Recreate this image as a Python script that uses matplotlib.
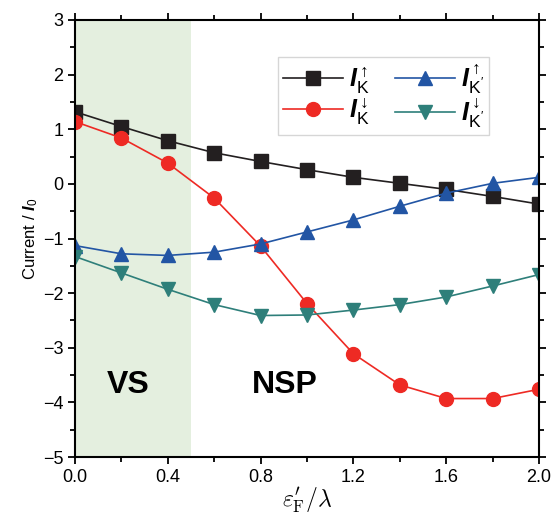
import matplotlib
matplotlib.use("Agg")
import matplotlib.pyplot as plt
from matplotlib.ticker import MultipleLocator

plt.rcParams["font.family"] = ["Liberation Sans", "DejaVu Sans"]
plt.rcParams["mathtext.fontset"] = "custom"
plt.rcParams["mathtext.it"] = "Liberation Sans:italic"
plt.rcParams["mathtext.bf"] = "Liberation Sans:bold"
plt.rcParams["mathtext.bfit"] = "Liberation Sans:italic:bold"
plt.rcParams["mathtext.rm"] = "Liberation Sans"

x = [0.0, 0.2, 0.4, 0.6, 0.8, 1.0, 1.2, 1.4, 1.6, 1.8, 2.0]
i_k_up = [1.32, 1.05, 0.79, 0.57, 0.41, 0.26, 0.12, 0.01, -0.10, -0.23, -0.37]
i_k_down = [1.14, 0.84, 0.38, -0.26, -1.14, -2.19, -3.11, -3.68, -3.93, -3.93, -3.76]
i_kp_up = [-1.13, -1.28, -1.31, -1.25, -1.10, -0.88, -0.66, -0.41, -0.17, 0.01, 0.12]
i_kp_down = [-1.33, -1.63, -1.93, -2.21, -2.41, -2.40, -2.31, -2.21, -2.07, -1.87, -1.66]

vs_range = (0.0, 0.5)

fig = plt.figure(figsize=(5.54, 5.20), dpi=100)
ax = fig.add_axes([75 / 554, 1 - 457 / 520, 464 / 554, 437 / 520])

ax.axvspan(*vs_range, color="#e4efdf", lw=0, zorder=0)

ms = 9.5
ax.plot(x, i_k_up, c="#231f20", marker="s", ms=ms, lw=1.2,
        label=r"$\mathbfit{I}_{\mathrm{K}}^{\uparrow}$")
ax.plot(x, i_k_down, c="#ee2a24", marker="o", ms=ms + 0.5, lw=1.2,
        label=r"$\mathbfit{I}_{\mathrm{K}}^{\downarrow}$")
ax.plot(x, i_kp_up, c="#2255a4", marker="^", ms=ms + 1, lw=1.2,
        label=r"$\mathbfit{I}_{\mathrm{K'}}^{\uparrow}$")
ax.plot(x, i_kp_down, c="#2e7f7a", marker="v", ms=ms + 1, lw=1.2,
        label=r"$\mathbfit{I}_{\mathrm{K'}}^{\downarrow}$")

ax.text(0.23, -3.68, "VS", fontsize=23, fontweight="bold", ha="center", va="center")
ax.text(0.905, -3.68, "NSP", fontsize=23, fontweight="bold", ha="center", va="center")

ax.set_xlim(0, 2.0)
ax.set_ylim(-5, 3)
ax.xaxis.set_major_locator(MultipleLocator(0.4))
ax.xaxis.set_minor_locator(MultipleLocator(0.2))
ax.yaxis.set_major_locator(MultipleLocator(1))
ax.yaxis.set_minor_locator(MultipleLocator(0.5))
ax.xaxis.set_major_formatter(plt.FormatStrFormatter("%.1f"))
ax.tick_params(which="both", direction="out", top=True, right=True,
               labelsize=13, width=1.3)
ax.tick_params(which="major", length=5)
ax.tick_params(which="minor", length=3.5)
for s in ax.spines.values():
    s.set_linewidth(1.5)

ax.set_ylabel(r"Current / $\mathbfit{I}_0$", fontsize=12, labelpad=2)
ax.set_xlabel(r"$\varepsilon_{\mathrm{F}}^{\prime}/\lambda$", fontsize=17,
              math_fontfamily="cm", labelpad=0)

handles, labels = ax.get_legend_handles_labels()
leg = ax.legend(handles, labels, ncol=2, loc="upper left",
                bbox_to_anchor=(0.4375, 0.915), borderaxespad=0, fontsize=18,
                frameon=True, fancybox=False, edgecolor="#cccccc",
                handlelength=2.4, columnspacing=1.0, handletextpad=0.25,
                labelspacing=0.0, borderpad=0.2)
leg.get_frame().set_linewidth(1.0)

fig.savefig("out.png", dpi=100)
